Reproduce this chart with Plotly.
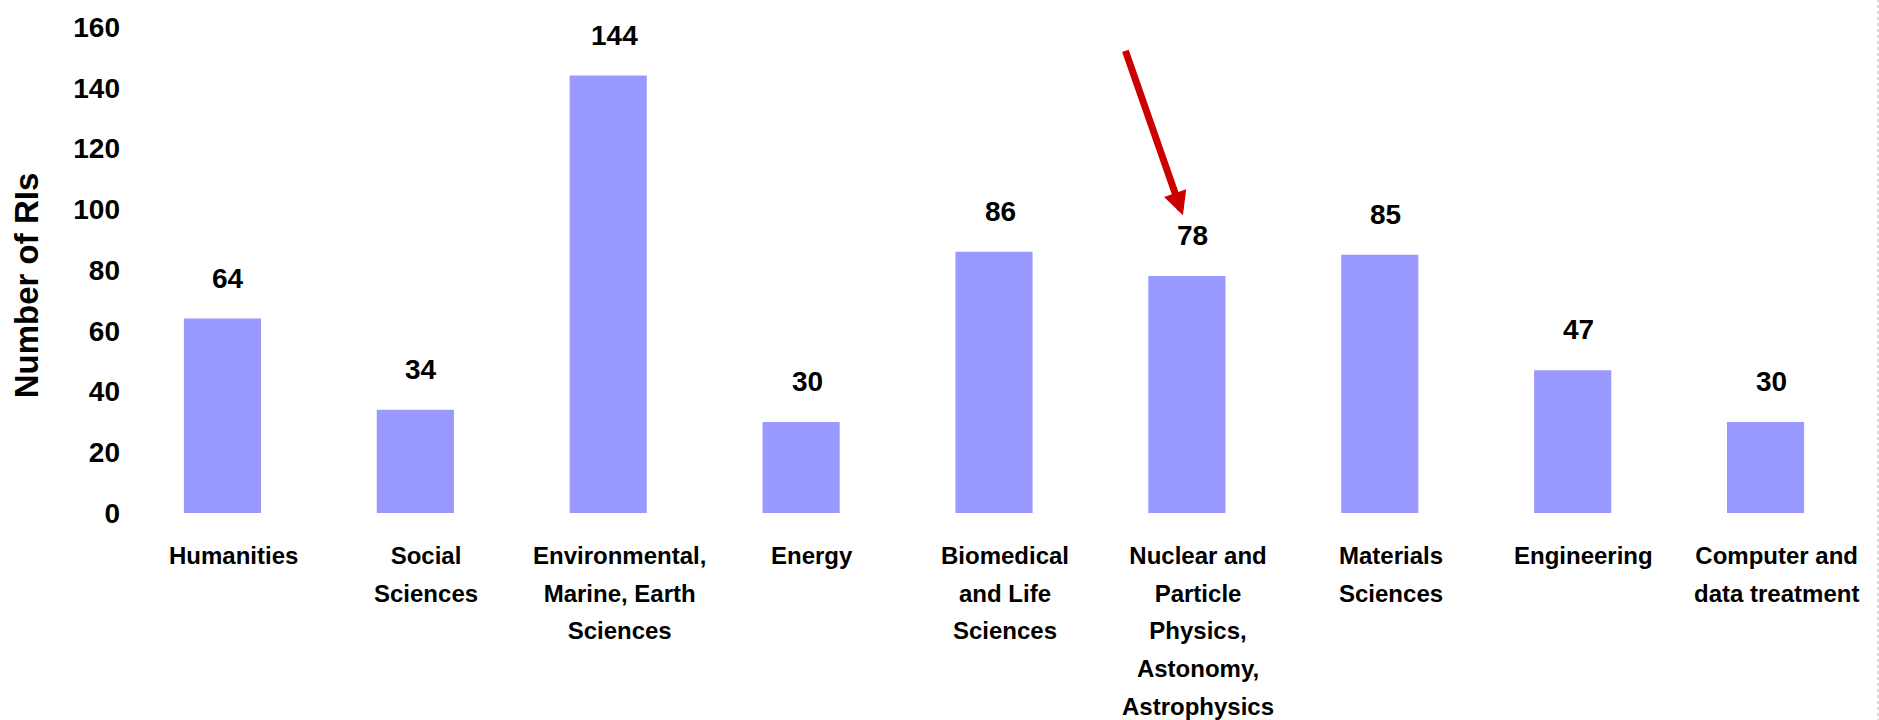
import plotly.graph_objects as go

# ---- data ----
categories = [
    "Humanities",
    "Social Sciences",
    "Environmental, Marine, Earth Sciences",
    "Energy",
    "Biomedical and Life Sciences",
    "Nuclear and Particle Physics, Astonomy, Astrophysics",
    "Materials Sciences",
    "Engineering",
    "Computer and data treatment",
]
category_lines = [
    ["Humanities"],
    ["Social", "Sciences"],
    ["Environmental,", "Marine, Earth", "Sciences"],
    ["Energy"],
    ["Biomedical", "and Life", "Sciences"],
    ["Nuclear and", "Particle", "Physics,", "Astonomy,", "Astrophysics"],
    ["Materials", "Sciences"],
    ["Engineering"],
    ["Computer and", "data treatment"],
]
values = [64, 34, 144, 30, 86, 78, 85, 47, 30]
y_title = "Number of RIs"
highlight_category = categories[5]

FONT = "Liberation Sans, Arial, Helvetica, sans-serif"
BAR_COLOR = "#9999FF"

fig = go.Figure()
fig.add_trace(go.Bar(
    x=categories,
    y=values,
    marker=dict(color=BAR_COLOR, line=dict(width=0)),
    hoverinfo="x+y",
))

annotations = []
# value labels above bars
for c, v in zip(categories, values):
    annotations.append(dict(
        x=c, y=v, xref="x", yref="y",
        text=str(v), showarrow=False,
        yanchor="bottom", xanchor="center",
        xshift=6, yshift=23,
        font=dict(family=FONT, size=28, color="black", weight="bold"),
    ))

# category labels below axis (multi-line, wider line spacing)
for c, lines in zip(categories, category_lines):
    txt = "<br>".join('<span style="font-size:24px">%s</span>' % l for l in lines)
    annotations.append(dict(
        x=c, y=0, xref="x", yref="y",
        text=txt, showarrow=False,
        yanchor="top", xanchor="center", align="center",
        xshift=11, yshift=-27,
        font=dict(family=FONT, size=29, color="black", weight="bold"),
    ))

# y-axis title
annotations.append(dict(
    x=-0.0575, y=0.469, xref="paper", yref="paper",
    text=y_title, showarrow=False, textangle=-90,
    xanchor="center", yanchor="middle",
    font=dict(family=FONT, size=33, color="black", weight="bold"),
))

# red arrow pointing at the highlighted bar
annotations.append(dict(
    x=highlight_category, y=98, xref="x", yref="y",
    text="", showarrow=True,
    ax=-58, ay=-166, axref="pixel", ayref="pixel",
    xshift=-4,
    arrowhead=2, arrowsize=0.67, arrowwidth=7, arrowcolor="#CC0000",
    standoff=0,
))

fig.update_layout(
    width=1879, height=720,
    margin=dict(l=126, r=17, t=20, b=207),
    plot_bgcolor="white", paper_bgcolor="white",
    bargap=0.6,
    showlegend=False,
    annotations=annotations,
    shapes=[dict(
        type="line", xref="paper", yref="paper",
        x0=1.0092, x1=1.0092, y0=-0.43, y1=1.06,
        line=dict(color="#cccccc", width=1.5, dash="dot"),
    )],
    xaxis=dict(
        type="category", showticklabels=False, showgrid=False,
        zeroline=False, showline=False, ticks="",
    ),
    yaxis=dict(
        range=[0, 160], dtick=20, showgrid=False, zeroline=False,
        showline=False, ticks="", ticklabelstandoff=5,
        tickfont=dict(family=FONT, size=28, color="black", weight="bold"),
    ),
)

fig.write_html(
    "out.html",
    config={"displayModeBar": False},
    post_script="document.body.style.margin='0';document.body.style.overflow='hidden';",
)
